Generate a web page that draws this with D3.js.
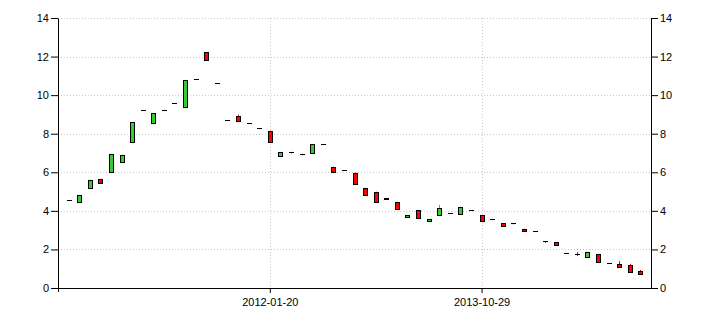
<!DOCTYPE html>
<html lang="en">
<head>
<meta charset="UTF-8" />
<title>Candlestick chart</title>
<style>
  body { margin: 0; background: #fff; }
  svg { display: block; font-family: "Liberation Sans", Arial, sans-serif; }
</style>
</head>
<body>
<svg width="710" height="325"></svg>
<script src="https://d3js.org/d3.v7.min.js"></script>
<script>
// one candle per period
const dates = [
  "2010-05-22", "2010-06-23", "2010-07-25", "2010-08-26", "2010-09-27",
  "2010-10-29", "2010-11-30", "2011-01-01", "2011-02-02", "2011-03-06",
  "2011-04-07", "2011-05-09", "2011-06-10", "2011-07-12", "2011-08-13",
  "2011-09-14", "2011-10-16", "2011-11-17", "2011-12-19", "2012-01-20",
  "2012-02-21", "2012-03-24", "2012-04-25", "2012-05-27", "2012-06-29",
  "2012-07-31", "2012-09-01", "2012-10-03", "2012-11-05", "2012-12-07",
  "2013-01-08", "2013-02-10", "2013-03-14", "2013-04-16", "2013-05-18",
  "2013-06-20", "2013-07-22", "2013-08-24", "2013-09-25", "2013-10-29",
  "2013-11-30", "2014-01-01", "2014-02-02", "2014-03-06", "2014-04-07",
  "2014-05-09", "2014-06-10", "2014-07-12", "2014-08-13", "2014-09-14",
  "2014-10-16", "2014-11-17", "2014-12-19", "2015-01-20", "2015-02-21"
];
const open = [
  4.57, 4.45, 5.21, 5.66, 6.04, 6.51, 7.55, 9.23, 8.54, 9.23,
  9.59, 9.37, 10.84, 12.24, 10.63, 8.71, 8.92, 8.55, 8.29, 8.16,
  6.82, 7.06, 6.96, 6.98, 7.46, 6.29, 6.11, 5.97, 5.19, 4.99,
  4.67, 4.47, 3.66, 4.05, 3.46, 3.79, 3.88, 3.84, 4.03, 3.79,
  3.57, 3.36, 3.36, 3.07, 2.95, 2.43, 2.37, 1.80, 1.76, 1.61,
  1.77, 1.28, 1.23, 1.19, 0.86
];
const high = [
  4.57, 4.83, 5.61, 5.66, 6.96, 6.91, 8.62, 9.23, 9.07, 9.23,
  9.59, 10.79, 10.84, 12.24, 10.63, 8.71, 8.99, 8.55, 8.29, 8.16,
  7.06, 7.06, 6.96, 7.46, 7.46, 6.29, 6.11, 5.97, 5.19, 4.99,
  4.67, 4.47, 3.77, 4.05, 3.57, 4.31, 3.88, 4.21, 4.03, 3.79,
  3.57, 3.36, 3.36, 3.07, 2.95, 2.43, 2.37, 1.80, 1.87, 1.87,
  1.77, 1.28, 1.40, 1.25, 0.94
];
const low = [
  4.57, 4.45, 5.21, 5.42, 6.04, 6.51, 7.55, 9.23, 8.54, 9.23,
  9.59, 9.37, 10.84, 11.81, 10.63, 8.71, 8.64, 8.55, 8.29, 7.55,
  6.82, 6.98, 6.88, 6.98, 7.46, 6.04, 6.11, 5.40, 4.83, 4.47,
  4.60, 4.10, 3.66, 3.64, 3.46, 3.79, 3.88, 3.84, 4.03, 3.48,
  3.57, 3.24, 3.30, 2.98, 2.95, 2.34, 2.25, 1.80, 1.66, 1.61,
  1.35, 1.28, 1.04, 0.83, 0.68
];
const close = [
  4.57, 4.83, 5.61, 5.42, 6.96, 6.91, 8.62, 9.23, 9.07, 9.23,
  9.59, 10.79, 10.84, 11.81, 10.63, 8.71, 8.64, 8.55, 8.29, 7.55,
  7.06, 7.04, 6.94, 7.46, 7.46, 6.04, 6.11, 5.40, 4.83, 4.47,
  4.60, 4.10, 3.77, 3.64, 3.57, 4.16, 3.88, 4.21, 4.03, 3.48,
  3.57, 3.24, 3.35, 2.98, 2.95, 2.42, 2.25, 1.80, 1.75, 1.87,
  1.35, 1.28, 1.11, 0.83, 0.75
];
const yTicks = [0, 2, 4, 6, 8, 10, 12, 14];
const xTicks = ["2012-01-20", "2013-10-29"];

const candles = dates.map((d, i) => ({
  date: d, o: open[i], h: high[i], l: low[i], c: close[i]
}));

const svg = d3.select("svg");
const plotLeft = 58, plotRight = 651, plotTop = 18, plotBottom = 288;

const x = d3.scalePoint().domain(dates).range([plotLeft, plotRight]).padding(1);
const y = d3.scaleLinear().domain([0, 14]).range([plotBottom, plotTop]);

const up = "#33cc33", down = "#ff0000";

// dotted grid
const grid = svg.append("g")
  .attr("stroke", "#c8c8c8")
  .attr("stroke-dasharray", "1,2");
grid.selectAll(".h")
  .data(yTicks.filter((t) => t > 0))
  .join("line")
  .attr("x1", plotLeft).attr("x2", plotRight)
  .attr("y1", (d) => Math.round(y(d)) + 0.5)
  .attr("y2", (d) => Math.round(y(d)) + 0.5);
grid.selectAll(".v")
  .data(xTicks)
  .join("line")
  .attr("x1", (d) => Math.round(x(d)) + 0.5)
  .attr("x2", (d) => Math.round(x(d)) + 0.5)
  .attr("y1", plotTop).attr("y2", plotBottom);

// axes
const styleAxis = (g) => {
  g.attr("font-family", null);
  g.selectAll("path, line").attr("stroke", "#000");
  g.selectAll("text").attr("fill", "#000").style("font-size", "11px");
};

svg.append("g")
  .attr("transform", `translate(${plotLeft},0)`)
  .call(d3.axisLeft(y).tickValues(yTicks).tickSize(7).tickPadding(2).tickSizeOuter(0))
  .call(styleAxis);

svg.append("g")
  .attr("transform", `translate(${plotRight},0)`)
  .call(d3.axisRight(y).tickValues(yTicks).tickSize(7).tickPadding(2).tickSizeOuter(0))
  .call(styleAxis);

svg.append("g")
  .attr("transform", `translate(0,${plotBottom})`)
  .call(d3.axisBottom(x).tickValues(xTicks).tickSize(5).tickPadding(5).tickSizeOuter(0))
  .call(styleAxis);

// small stub below the left corner
svg.append("line")
  .attr("x1", plotLeft + 0.5).attr("x2", plotLeft + 0.5)
  .attr("y1", plotBottom).attr("y2", plotBottom + 4)
  .attr("stroke", "#000");

// candles
const cg = svg.append("g");
const col = (d) => (d.c > d.o ? up : down);

cg.selectAll("line.wick")
  .data(candles)
  .join("line")
  .attr("class", "wick")
  .attr("x1", (d) => Math.round(x(d.date)) + 0.5)
  .attr("x2", (d) => Math.round(x(d.date)) + 0.5)
  .attr("y1", (d) => y(d.h))
  .attr("y2", (d) => y(d.l))
  .attr("stroke", col);

cg.selectAll("rect")
  .data(candles)
  .join("rect")
  .attr("x", (d) => Math.round(x(d.date)) - 2 + 0.5)
  .attr("width", 4)
  .attr("y", (d) => Math.round(y(Math.max(d.o, d.c))) + 0.5)
  .attr("height", (d) =>
    Math.max(0.01, Math.round(y(Math.min(d.o, d.c))) - Math.round(y(Math.max(d.o, d.c))))
  )
  .attr("fill", col)
  .attr("stroke", "#000")
  .attr("stroke-width", 1);
</script>
</body>
</html>
